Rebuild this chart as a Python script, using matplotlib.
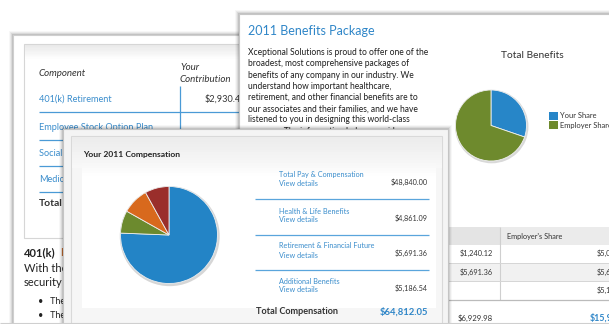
import matplotlib
matplotlib.use("Agg")
import matplotlib.pyplot as plt
from matplotlib.patches import Rectangle
from matplotlib.lines import Line2D
import numpy as np

# ---------------- data ----------------
comp_labels = ["Total Pay & Compensation", "Health & Life Benefits",
               "Retirement & Financial Future", "Additional Benefits"]
comp_values = [48840.00, 4861.09, 5691.36, 5186.54]
comp_colors = ["#2384c6", "#6c8a2e", "#d8691d", "#9a2e2b"]
comp_total_label = "$64,812.05"

share_labels = ["Your Share", "Employer Share"]
share_values = [6929.98, 15972.00]
share_colors = ["#2786c8", "#6e8a2d"]

table_your = ["$1,240.12", "$5,691.36", ""]
table_employer = ["$5,094.10", "$5,691.36", "$5,186.54"]
table_totals = ["$6,929.98", "$15,972.00"]

back_components = ["401(k) Retirement", "Employee Stock Option Plan",
                   "Social Security", "Medicare"]
back_contrib = ["$2,930.40", "", "", ""]

paragraph = ["Xceptional Solutions is proud to offer one of the",
             "broadest, most comprehensive packages of",
             "benefits of any company in our industry. We",
             "understand how important healthcare,",
             "retirement, and other financial benefits are to",
             "our associates and their families, and we have",
             "listened to you in designing this world-class",
             "program. The information below provides"]

# ---------------- helpers ----------------
W, H = 609, 324
fig = plt.figure(figsize=(W / 100, H / 100), dpi=100)
fig.patch.set_facecolor("white")
FONT = "Lato"

def fx(x): return x / W
def fy(y): return 1 - y / H

def rect(x0, y0, x1, y1, fc="white", ec="none", lw=0.0, z=1, alpha=1.0):
    fig.add_artist(Rectangle((fx(x0), fy(y1)), (x1 - x0) / W, (y1 - y0) / H,
                             transform=fig.transFigure, facecolor=fc,
                             edgecolor=ec, lw=lw, zorder=z, alpha=alpha))

def line(x0, y0, x1, y1, color="#4a9ad6", lw=0.8, z=1):
    fig.add_artist(Line2D([fx(x0), fx(x1)], [fy(y0), fy(y1)],
                          transform=fig.transFigure, color=color, lw=lw,
                          zorder=z, solid_capstyle="butt"))

def txt(x, y, s, size, color="#2b2b2b", ha="left", weight="normal",
        style="normal", z=1):
    fig.text(fx(x), fy(y), s, fontsize=size, color=color, ha=ha, va="center",
             fontweight=weight, fontstyle=style, family=FONT, zorder=z)

def shadow(x0, y0, x1, y1, z):
    for i, a in zip([4, 3, 2, 1], [0.03, 0.05, 0.07, 0.10]):
        rect(x0 - i, y0 - i, x1 + i, y1 + i, fc="#000000", z=z, alpha=a)

def gradient(x0, y0, x1, y1, c_top, c_bot, z, n=12):
    ct = np.array(matplotlib.colors.to_rgb(c_top))
    cb = np.array(matplotlib.colors.to_rgb(c_bot))
    h = (y1 - y0) / n
    for i in range(n):
        c = ct + (cb - ct) * i / (n - 1)
        rect(x0, y0 + i * h, x1, y0 + (i + 1) * h + 0.3, fc=c, z=z)

LINK = "#3a8dcc"

# ---------------- back-left panel ----------------
shadow(13, 35, 260, 330, 1.0)
rect(13, 35, 260, 330, fc="white", ec="#cfcfcf", lw=0.8, z=1.1)
rect(24, 44, 255, 238, fc="white", ec="#d6d6d6", lw=0.8, z=1.2)
gradient(24.5, 44.5, 254.5, 60, "#e9e9e9", "#ffffff", 1.25)
txt(39, 74, "Component", 7, "#333333", style="italic", z=1.3)
txt(180, 67, "Your", 7, "#333333", style="italic", z=1.3)
txt(180, 80, "Contribution", 7, "#333333", style="italic", z=1.3)
line(180, 86, 180, 175, "#4a9ad6", 0.9, 1.3)
row_y = [99, 127, 153, 179]
for i, (c, v) in enumerate(zip(back_components, back_contrib)):
    txt(39, row_y[i], c, 6.6, LINK, z=1.3)
    if v:
        txt(246, row_y[i], v, 6.6, "#333333", ha="right", z=1.3)
    line(39, row_y[i] + 13, 250, row_y[i] + 13, "#4a9ad6", 0.9, 1.3)
txt(39, 204, "Total", 7.5, "#333333", weight="bold", z=1.3)
txt(24, 253, "401(k)", 8, "#222222", weight="bold", z=1.3)
txt(60, 253, "I", 8, "#c86a2a", weight="bold", z=1.3)
txt(24, 268, "With the plan", 8, "#222222", z=1.3)
txt(24, 283, "security", 8, "#222222", z=1.3)
txt(38, 302, "\u2022   The", 6.5, "#222222", z=1.3)
txt(38, 316, "\u2022   The", 6.5, "#222222", z=1.3)

# ---------------- right panel ----------------
shadow(239, 14, 640, 340, 3.0)
rect(239, 14, 640, 340, fc="white", ec="#c6c6c6", lw=0.8, z=3.1)
txt(248, 31, "2011 Benefits Package", 9.0, "#2f86c8", z=3.3)
for i, s in enumerate(paragraph):
    txt(248, 52.7 + i * 11.2, s, 6.15, "#1e1e1e", z=3.3)
txt(532, 55, "Total Benefits", 7.4, "#333333", ha="center", z=3.3)

cx, cy, r = 491, 125.5, 35.5
ax2 = fig.add_axes([fx(cx - r - 2), fy(cy + r + 2), (2 * r + 4) / W, (2 * r + 4) / H])
ax2.set_zorder(3.4)
lim = (r + 2) / r
ax2.pie([1], colors=["#d9d9d9"], radius=1.035, center=(0.02, -0.03),
        wedgeprops=dict(lw=0))
ax2.pie(share_values, colors=share_colors, startangle=90, counterclock=False,
        wedgeprops=dict(edgecolor="#f0f0f0", lw=0.6))
ax2.set_xlim(-lim, lim); ax2.set_ylim(-lim, lim); ax2.set_aspect("equal")
ax2.axis("off")

for i, (lab, col) in enumerate(zip(share_labels, share_colors)):
    yy = 116 + i * 9.3
    rect(549, yy - 4, 557.5, yy + 4, fc=col, z=3.3)
    txt(560.5, yy, lab, 5.4, "#333333", z=3.3)

# table
rect(440, 227, 640, 245, fc="#e4e4e4", z=3.2)
rect(500, 227, 640, 245, fc="#ebebeb", z=3.21)
line(500, 227, 500, 300, "#cfcfcf", 0.8, 3.3)
txt(507, 236, "Employer's Share", 5.3, "#333333", z=3.3)
rows_y = [253.5, 272, 290.5]
rect(440, 263, 640, 281.5, fc="#f1f1f1", z=3.2)
for i in range(3):
    line(440, rows_y[i] + 9, 640, rows_y[i] + 9, "#d6d6d6", 0.7, 3.3)
    if table_your[i]:
        txt(493, rows_y[i], table_your[i], 5.3, "#333333", ha="right", z=3.3)
    txt(630, rows_y[i], table_employer[i], 5.3, "#333333", ha="right", z=3.3)
line(440, 300, 640, 300, "#bbbbbb", 0.9, 3.3)
txt(493, 318, table_totals[0], 5.6, "#333333", ha="right", z=3.3)
txt(635, 318, table_totals[1], 6.4, "#2f86c8", ha="right", weight="bold", z=3.3)

# ---------------- front panel ----------------
shadow(63, 129, 448, 335, 5.0)
rect(63, 129, 448, 335, fc="#f4f4f4", ec="#c4c4c4", lw=0.8, z=5.1)
rect(71, 136, 442, 330, fc="#f6f6f6", ec="#d9d9d9", lw=0.8, z=5.12)
gradient(71.5, 136.5, 441.5, 168, "#ececec", "#f8f8f8", 5.15)
rect(82, 163, 436, 308, fc="white", z=5.2)
gradient(82, 163, 436, 178, "#f8f8f8", "#ffffff", 5.21, n=6)
line(0, 322.5, 609, 322.5, "#cfcfcf", 0.8, 5.3)
txt(83, 154, "Your 2011 Compensation", 6.1, "#222222", weight="bold", z=5.3)

cx, cy, r = 169, 235, 48.5
ax1 = fig.add_axes([fx(cx - r - 2), fy(cy + r + 2), (2 * r + 4) / W, (2 * r + 4) / H])
ax1.set_zorder(5.4)
lim = (r + 2) / r
ax1.pie([1], colors=["#d6d6d6"], radius=1.03, center=(0.015, -0.025),
        wedgeprops=dict(lw=0))
ax1.pie(comp_values, colors=comp_colors, startangle=90, counterclock=False,
        wedgeprops=dict(edgecolor="#eeeeee", lw=0.6))
ax1.set_xlim(-lim, lim); ax1.set_ylim(-lim, lim); ax1.set_aspect("equal")
ax1.axis("off")

item_y = [175, 211, 246, 281]
for i, (lab, val) in enumerate(zip(comp_labels, comp_values)):
    y0 = item_y[i]
    txt(279, y0, lab, 5.2, LINK, z=5.3)
    txt(279, y0 + 9, "View details", 5.2, LINK, z=5.3)
    txt(428, y0 + 7, "${:,.2f}".format(val), 5.2, "#333333", ha="right", z=5.3)
    if i < 3:
        line(255, y0 + 24, 429, y0 + 24, "#5aa5dc", 0.9, 5.3)
txt(256, 312, "Total Compensation", 6.6, "#333333", weight="bold", z=5.3)
txt(428, 312, comp_total_label, 6.8, "#2f86c8", ha="right", weight="bold", z=5.3)

fig.savefig("out.png", dpi=100, facecolor="white")
